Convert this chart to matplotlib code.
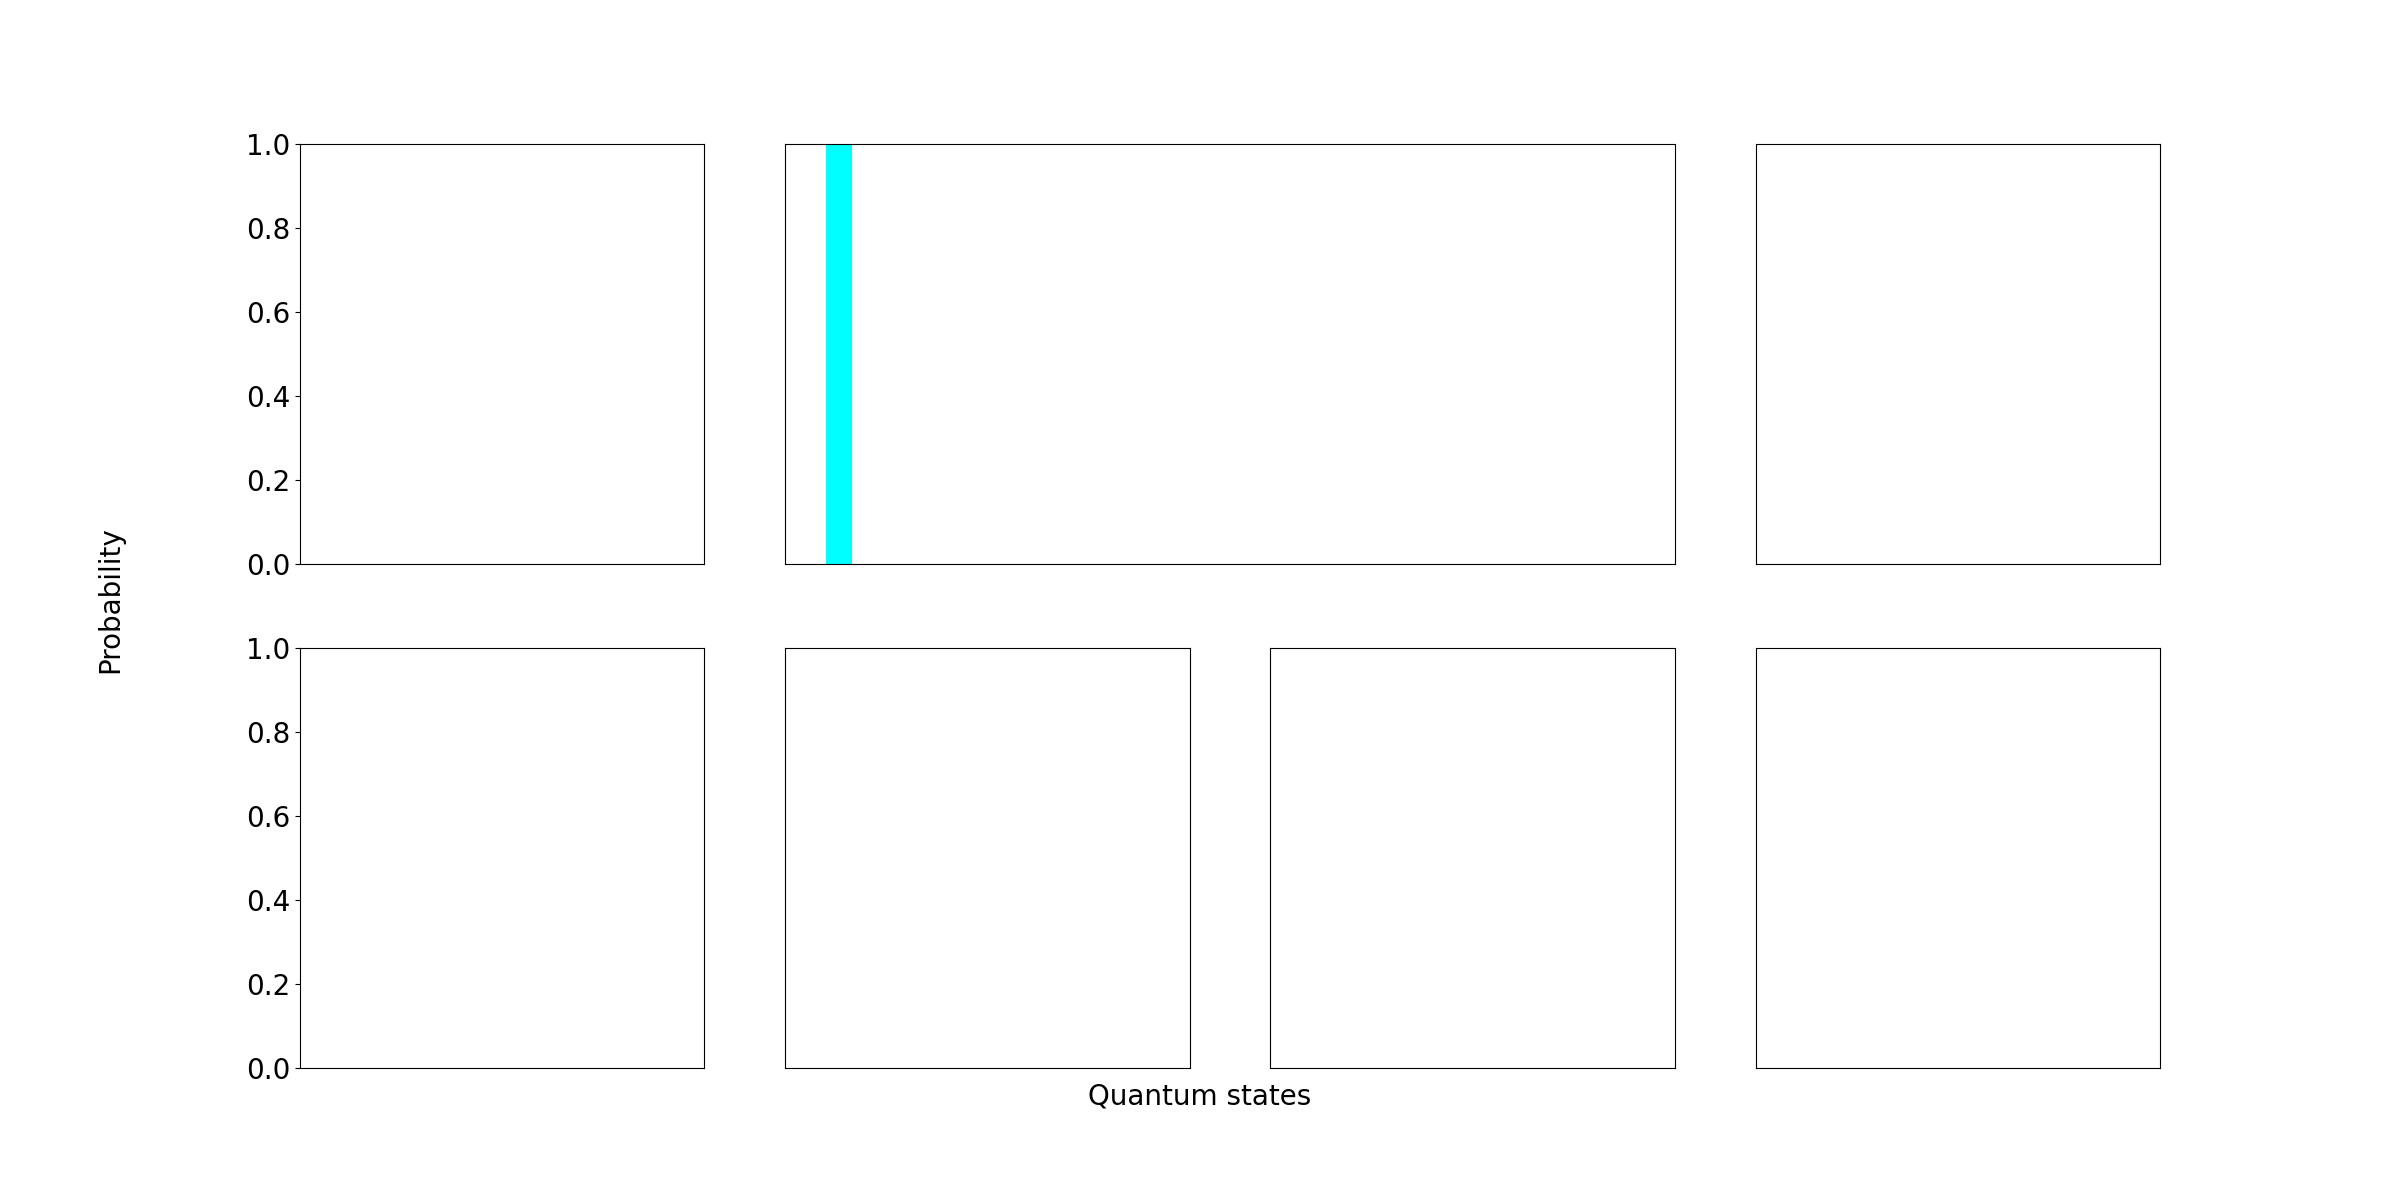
import matplotlib
matplotlib.use("Agg")
import matplotlib.pyplot as plt
import numpy as np

# 16 basis states per panel
states = [format(i, "04b") for i in range(16)]

# probabilities per panel
p_top_left = [0.001] * 16
p_top_mid = [1.0] + [0.001] * 15
p_top_right = [0.001] * 16
p_bot_0 = [0.001] * 16
p_bot_1 = [0.001] * 16
p_bot_2 = [0.001] * 16
p_bot_3 = [0.001] * 16

bar_color = "#00FFFF"

fig = plt.figure(figsize=(24, 12), dpi=100)
gs = fig.add_gridspec(2, 4)

axes = [
    (fig.add_subplot(gs[0, 0]), p_top_left, True),
    (fig.add_subplot(gs[0, 1:3]), p_top_mid, False),
    (fig.add_subplot(gs[0, 3]), p_top_right, False),
    (fig.add_subplot(gs[1, 0]), p_bot_0, True),
    (fig.add_subplot(gs[1, 1]), p_bot_1, False),
    (fig.add_subplot(gs[1, 2]), p_bot_2, False),
    (fig.add_subplot(gs[1, 3]), p_bot_3, False),
]

x = np.arange(len(states))
for ax, vals, show_y in axes:
    ax.bar(x, vals, width=0.5, color=bar_color)
    ax.set_ylim(0, 1.0)
    ax.set_xticks([])
    if show_y:
        ax.tick_params(axis="y", labelsize=20)
    else:
        ax.set_yticks([])

fig.text(0.5, 0.08, "Quantum states", ha="center", fontsize=20)
fig.text(0.04, 0.5, "Probability", va="center", rotation="vertical", fontsize=20)

fig.savefig("out.png", dpi=100)
